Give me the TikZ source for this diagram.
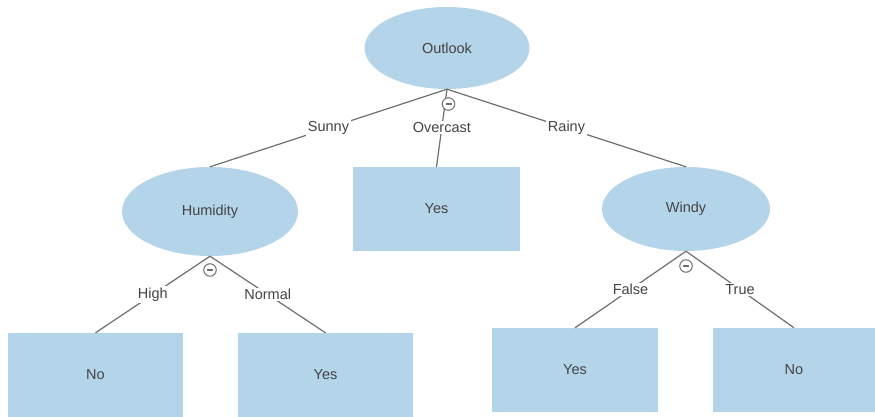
\documentclass[tikz,border=0pt]{standalone}
\usepackage{fontspec}
\setmainfont{Liberation Sans}
\usetikzlibrary{shapes.geometric}
\definecolor{nodefill}{HTML}{B4D4EA}
\definecolor{txt}{HTML}{444444}
\definecolor{wire}{HTML}{6E6E6E}
\begin{document}
\begin{tikzpicture}[x=1pt,y=-1pt,
  font=\fontsize{14.5}{17}\selectfont, text=txt,
  oval/.style={ellipse, fill=nodefill, inner sep=0pt},
  leaf/.style={rectangle, fill=nodefill, inner sep=0pt},
  link/.style={draw=wire, line width=1.2pt},
  tag/.style={fill=white, inner sep=1.5pt, text=txt},
  toggle/.style={circle, draw=wire, line width=1pt, fill=white, minimum size=12.5pt, inner sep=0pt,
    path picture={\draw[wire, line width=1.1pt]
      ([xshift=-3pt]path picture bounding box.center) -- ([xshift=3pt]path picture bounding box.center);}}]
\useasboundingbox (0,0) rectangle (875,417);

% decision nodes
\node[oval, minimum width=165pt, minimum height=82pt] (outlook) at (447,48) {Outlook};
\node[oval, minimum width=176pt, minimum height=89pt] (humidity) at (210,211.5) {Humidity};
\node[oval, minimum width=168pt, minimum height=84pt] (windy) at (686,209) {Windy};

% leaves
\node[leaf, minimum width=167pt, minimum height=84pt] (yesmid) at (436.5,209) {Yes};
\node[leaf, minimum width=175pt, minimum height=84pt] (nohigh) at (95.5,375) {No};
\node[leaf, minimum width=175pt, minimum height=84pt] (yesnormal) at (325.5,375) {Yes};
\node[leaf, minimum width=166pt, minimum height=84pt] (yesfalse) at (575,370) {Yes};
\node[leaf, minimum width=162pt, minimum height=84pt] (notrue) at (794,370) {No};

% branches with their labels
\draw[link] (outlook.south) -- node[tag] (sunny) {Sunny} (humidity.north);
\draw[link] (outlook.south) -- node[tag, pos=0.49] (overcast) {Overcast} (yesmid.north);
\draw[link] (outlook.south) -- node[tag] (rainy) {Rainy} (windy.north);
\draw[link] (humidity.south) -- node[tag] (high) {High} (nohigh.north);
\draw[link] (humidity.south) -- node[tag] (normal) {Normal} (yesnormal.north);
\draw[link] (windy.south) -- node[tag] (false) {False} (yesfalse.north);
\draw[link] (windy.south) -- node[tag] (true) {True} (notrue.north);

% collapse toggles under each split
\node[toggle] (t1) at (448.5,104) {};
\node[toggle] (t2) at (210,270) {};
\node[toggle] (t3) at (686,266) {};
\end{tikzpicture}
\end{document}
